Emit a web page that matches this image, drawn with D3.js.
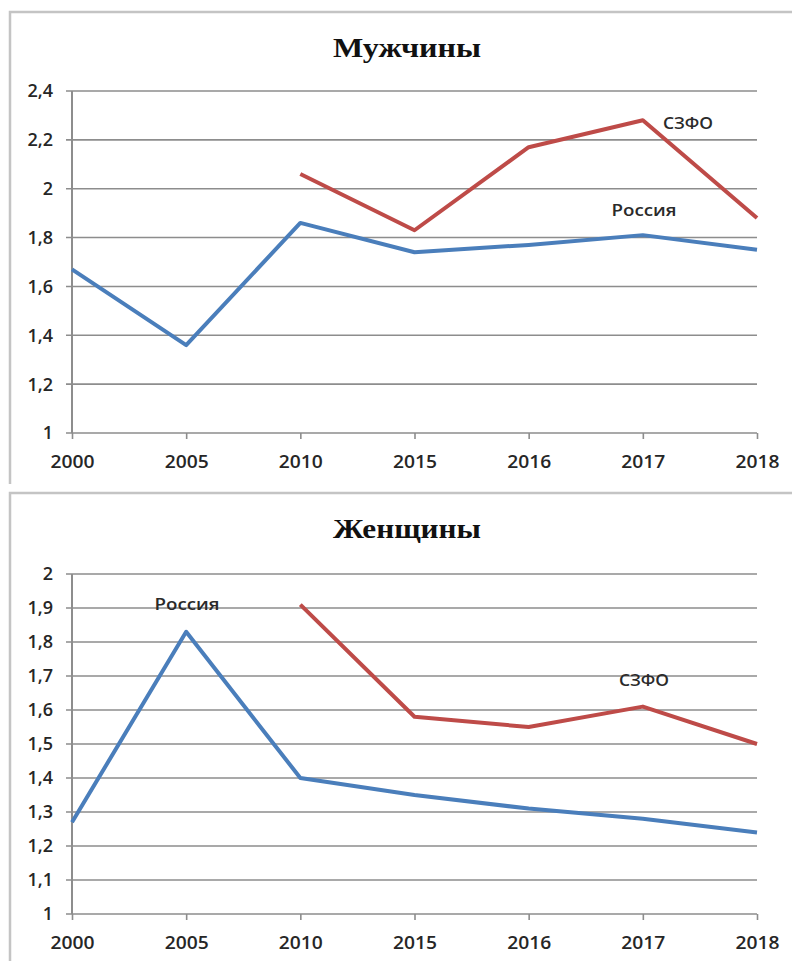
<!DOCTYPE html>
<html><head><meta charset="utf-8">
<script src="https://cdn.jsdelivr.net/npm/d3@7"></script>
<style>
html,body{margin:0;padding:0;background:#fff;}
svg{display:block;}
</style>
</head><body>
<svg id="c" width="792" height="961"></svg>
<script>
// ---- data ----
const years = ["2000","2005","2010","2015","2016","2017","2018"];
const menTitle = "Мужчины";
const womenTitle = "Женщины";
const menRussia = [1.67, 1.36, 1.86, 1.74, 1.77, 1.81, 1.75];
const menSZFO   = [null, null, 2.06, 1.83, 2.17, 2.28, 1.88];
const womenRussia = [1.27, 1.83, 1.40, 1.35, 1.31, 1.28, 1.24];
const womenSZFO   = [null, null, 1.91, 1.58, 1.55, 1.61, 1.50];
const menTicks = [1, 1.2, 1.4, 1.6, 1.8, 2, 2.2, 2.4];
const womenTicks = [1, 1.1, 1.2, 1.3, 1.4, 1.5, 1.6, 1.7, 1.8, 1.9, 2];
const seriesNames = ["Россия", "СЗФО"];

const svg = d3.select("#c");
const fmt = v => String(+v.toFixed(2)).replace(".", ",");
const BLUE = "#4a7ebb", RED = "#be4b48", GRID = "#8d8d8d", TXT = "#262626";

function panel(o) {
  const g = svg.append("g");
  // frame
  g.append("path")
    .attr("d", `M${o.boxX},${o.boxBottom} L${o.boxX},${o.boxTop} L792,${o.boxTop}`)
    .attr("fill", "none").attr("stroke", "#c4c4c4").attr("stroke-width", 2.5);

  const x = d3.scalePoint().domain(years).range([72, 757]);
  const y = d3.scaleLinear().domain(o.domain).range(o.yRange);

  // gridlines
  g.append("g").selectAll("line").data(o.ticks).join("line")
    .attr("x1", 66).attr("x2", 757)
    .attr("y1", d => y(d)).attr("y2", d => y(d))
    .attr("stroke", GRID).attr("stroke-width", 1.6);

  // y axis line
  g.append("line").attr("x1", 72).attr("x2", 72)
    .attr("y1", y(o.domain[0])).attr("y2", y(o.domain[1]))
    .attr("stroke", GRID).attr("stroke-width", 2);

  // y labels
  g.append("g").selectAll("text").data(o.ticks).join("text")
    .attr("x", 53).attr("y", d => y(d)).attr("dy", "0.36em")
    .attr("text-anchor", "end")
    .attr("font-family", "Open Sans, sans-serif").attr("font-size", 18)
    .attr("font-weight", 600)
    .attr("fill", TXT).text(fmt);

  // x axis via d3
  const xa = g.append("g").attr("transform", `translate(0,${y(o.domain[0])})`)
    .call(d3.axisBottom(x).tickSize(6).tickPadding(0));
  xa.select(".domain").remove();
  xa.selectAll(".tick line").attr("stroke", GRID).attr("stroke-width", 1.6);
  xa.selectAll(".tick text")
    .attr("y", 0).attr("dy", 0).attr("transform", "translate(0,35)")
    .attr("font-family", "Open Sans, sans-serif").attr("font-size", 18)
    .attr("font-weight", 600)
    .attr("fill", TXT).attr("textLength", 44).attr("lengthAdjust", "spacingAndGlyphs");

  // title
  g.append("text").attr("x", 407).attr("y", o.titleY)
    .attr("text-anchor", "middle")
    .attr("font-family", "Liberation Serif, serif").attr("font-weight", "bold")
    .attr("font-size", 28).attr("fill", "#111")
    .attr("textLength", 148).attr("lengthAdjust", "spacingAndGlyphs")
    .text(o.title);

  const line = d3.line().defined(d => d.v != null)
    .x(d => x(d.k)).y(d => y(d.v));
  [[o.russia, BLUE], [o.szfo, RED]].forEach(([vals, col]) => {
    g.append("path").datum(years.map((k, i) => ({k, v: vals[i]})))
      .attr("d", line).attr("fill", "none")
      .attr("stroke", col).attr("stroke-width", 4)
      .attr("stroke-linejoin", "round").attr("stroke-linecap", "butt");
  });

  // series labels
  o.labels.forEach(l => {
    g.append("text").attr("x", l.x).attr("y", l.y)
      .attr("text-anchor", "middle")
      .attr("font-family", "Open Sans, sans-serif").attr("font-size", 16)
      .attr("font-weight", 600)
      .attr("fill", "#2a2a2a")
      .attr("textLength", l.w).attr("lengthAdjust", "spacingAndGlyphs")
      .text(l.t);
  });
}

panel({
  boxX: 10, boxTop: 12, boxBottom: 484,
  domain: [1, 2.4], yRange: [433, 91], ticks: menTicks,
  title: menTitle, titleY: 57,
  russia: menRussia, szfo: menSZFO,
  labels: [
    {t: seriesNames[1], x: 688, y: 129, w: 50},
    {t: seriesNames[0], x: 644, y: 216, w: 65}
  ]
});

panel({
  boxX: 10, boxTop: 493, boxBottom: 961,
  domain: [1, 2], yRange: [914, 574], ticks: womenTicks,
  title: womenTitle, titleY: 538,
  russia: womenRussia, szfo: womenSZFO,
  labels: [
    {t: seriesNames[0], x: 187, y: 610, w: 65},
    {t: seriesNames[1], x: 644, y: 686, w: 50}
  ]
});
</script>
</body></html>
